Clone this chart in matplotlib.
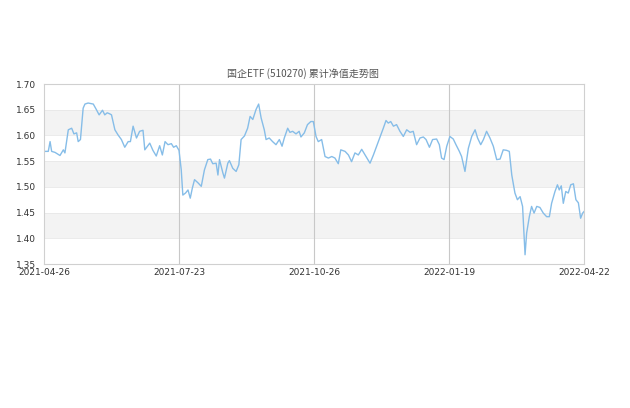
import matplotlib
matplotlib.use("Agg")
import matplotlib.pyplot as plt
import numpy as np

# trading-day index (x) and accumulated NAV (y)
day_index = [
    0, 1.9, 2.7, 3.4, 4.9, 7.1, 8.6, 9.3, 10.8, 12.3, 13.3, 14.5, 15.2, 16.2,
    17.4, 18.2, 19.6, 21.9, 23.3, 24.5, 26.0, 27.0, 28.1, 29.2, 30.0, 31.5,
    32.9, 34.4, 35.9, 37.4, 38.4, 39.6, 41.1, 42.5, 44.0, 44.8, 47.0, 48.4,
    49.9, 51.4, 52.6, 53.8, 55.1, 56.6, 57.6, 58.8, 60.0, 61.0, 61.7, 62.9,
    64.0, 65.0, 65.9, 66.9, 68.4, 69.9, 71.3, 72.8, 74.0, 75.0, 76.5, 77.3,
    78.0, 79.5, 80.2, 81.7, 82.4, 83.9, 85.4, 86.6, 87.6, 89.1, 90.5, 91.6,
    92.8, 94.2, 95.4, 96.5, 97.9, 98.7, 100.1, 101.6, 103.1, 104.6, 105.8,
    106.8, 108.3, 109.3, 110.5, 112.0, 113.4, 114.2, 115.7, 117.1, 118.6,
    119.7, 120.9, 121.9, 123.4, 124.9, 126.4, 127.9, 129.3, 130.8, 131.9,
    133.8, 135.3, 136.7, 138.2, 139.7, 141.2, 142.7, 144.9, 146.4, 148.6,
    150.8, 152.0, 153.0, 154.1, 155.3, 156.7, 158.2, 159.7, 161.2, 162.7,
    164.1, 165.6, 167.1, 168.6, 169.8, 171.3, 172.7, 174.5, 175.7, 176.7,
    177.8, 179.0, 180.4, 181.9, 183.1, 184.6, 185.6, 187.1, 188.6, 190.1,
    191.6, 192.7, 194.1, 195.3, 196.7, 198.2, 199.7, 201.2, 202.7, 204.1,
    205.6, 206.8, 207.9, 209.3, 210.4, 211.6, 212.7, 213.8, 214.5, 215.7,
    216.7, 217.8, 219.0, 220.4, 221.9, 223.4, 224.6, 225.6, 227.1, 228.2,
    229.0, 229.9, 230.8, 231.9, 233.0, 234.1, 235.3, 236.4, 237.5, 238.5,
    239.4, 240.0,
]
nav = [
    1.569, 1.569, 1.588, 1.569, 1.567, 1.561, 1.572, 1.566, 1.611, 1.614,
    1.603, 1.605, 1.588, 1.592, 1.653, 1.661, 1.663, 1.661, 1.650, 1.640,
    1.649, 1.640, 1.644, 1.642, 1.640, 1.611, 1.601, 1.592, 1.577, 1.588,
    1.588, 1.618, 1.595, 1.608, 1.610, 1.572, 1.585, 1.571, 1.560, 1.580,
    1.562, 1.588, 1.582, 1.584, 1.577, 1.580, 1.571, 1.533, 1.484, 1.488,
    1.494, 1.478, 1.497, 1.514, 1.508, 1.501, 1.533, 1.553, 1.554, 1.545,
    1.546, 1.523, 1.553, 1.527, 1.517, 1.546, 1.551, 1.536, 1.530, 1.543,
    1.592, 1.599, 1.614, 1.637, 1.631, 1.650, 1.661, 1.634, 1.611, 1.592,
    1.595, 1.588, 1.582, 1.592, 1.579, 1.595, 1.614, 1.606, 1.608, 1.603,
    1.608, 1.597, 1.605, 1.621, 1.627, 1.627, 1.598, 1.588, 1.592, 1.559,
    1.556, 1.559, 1.556, 1.545, 1.572, 1.569, 1.562, 1.549, 1.566, 1.562,
    1.573, 1.562, 1.546, 1.562, 1.588, 1.614, 1.629, 1.624, 1.627, 1.618,
    1.621, 1.608, 1.598, 1.611, 1.606, 1.608, 1.582, 1.595, 1.597, 1.592,
    1.577, 1.592, 1.593, 1.582, 1.556, 1.553, 1.579, 1.598, 1.593, 1.582,
    1.569, 1.559, 1.530, 1.575, 1.598, 1.611, 1.595, 1.582, 1.592, 1.608,
    1.595, 1.579, 1.553, 1.554, 1.572, 1.571, 1.569, 1.523, 1.488, 1.475,
    1.481, 1.462, 1.368, 1.410, 1.442, 1.462, 1.449, 1.462, 1.460, 1.449,
    1.442, 1.442, 1.468, 1.491, 1.504, 1.494, 1.502, 1.468, 1.491, 1.488,
    1.504, 1.506, 1.475, 1.469, 1.439, 1.449, 1.452,
]
tick_pos = [0, 60, 120, 180, 240]
tick_labels = ["2021-04-26", "2021-07-23", "2021-10-26", "2022-01-19", "2022-04-22"]
y_ticks = [1.35, 1.40, 1.45, 1.50, 1.55, 1.60, 1.65, 1.70]
title = "国企ETF (510270) 累计净值走势图"

plt.rcParams['font.family'] = ['Noto Sans CJK SC', 'DejaVu Sans']

fig = plt.figure(figsize=(6.3, 4.08), dpi=100)
ax = fig.add_axes([44 / 630, 144 / 408, 540 / 630, 180 / 408])

# alternating bands
for lo in [1.40, 1.50, 1.60]:
    ax.axhspan(lo, lo + 0.05, color="#f3f3f3", zorder=0, lw=0)
for y in y_ticks:
    ax.axhline(y, color="#e8e8e8", lw=0.6, zorder=0.5)
for x in tick_pos[1:-1]:
    ax.axvline(x, color="#c8c8c8", lw=0.8, zorder=1)

ax.plot(day_index, nav, color="#86bde8", lw=1.0, zorder=2)

ax.set_xlim(0, 240)
ax.set_ylim(1.35, 1.70)
ax.set_xticks(tick_pos)
ax.set_xticklabels(tick_labels, family="DejaVu Sans")
ax.set_yticks(y_ticks)
ax.set_yticklabels([f"{v:.2f}" for v in y_ticks], family="DejaVu Sans")
ax.tick_params(axis="both", length=0, labelsize=6.5, colors="#333333")
ax.tick_params(axis="x", pad=3)
ax.tick_params(axis="y", pad=6)
for s in ax.spines.values():
    s.set_color("#d0d0d0")
    s.set_linewidth(0.8)

fig.text(303 / 630, 1 - 74 / 408, title, ha="center", va="center",
         fontsize=7.2, color="#555555")

fig.savefig("out.png", dpi=100)
